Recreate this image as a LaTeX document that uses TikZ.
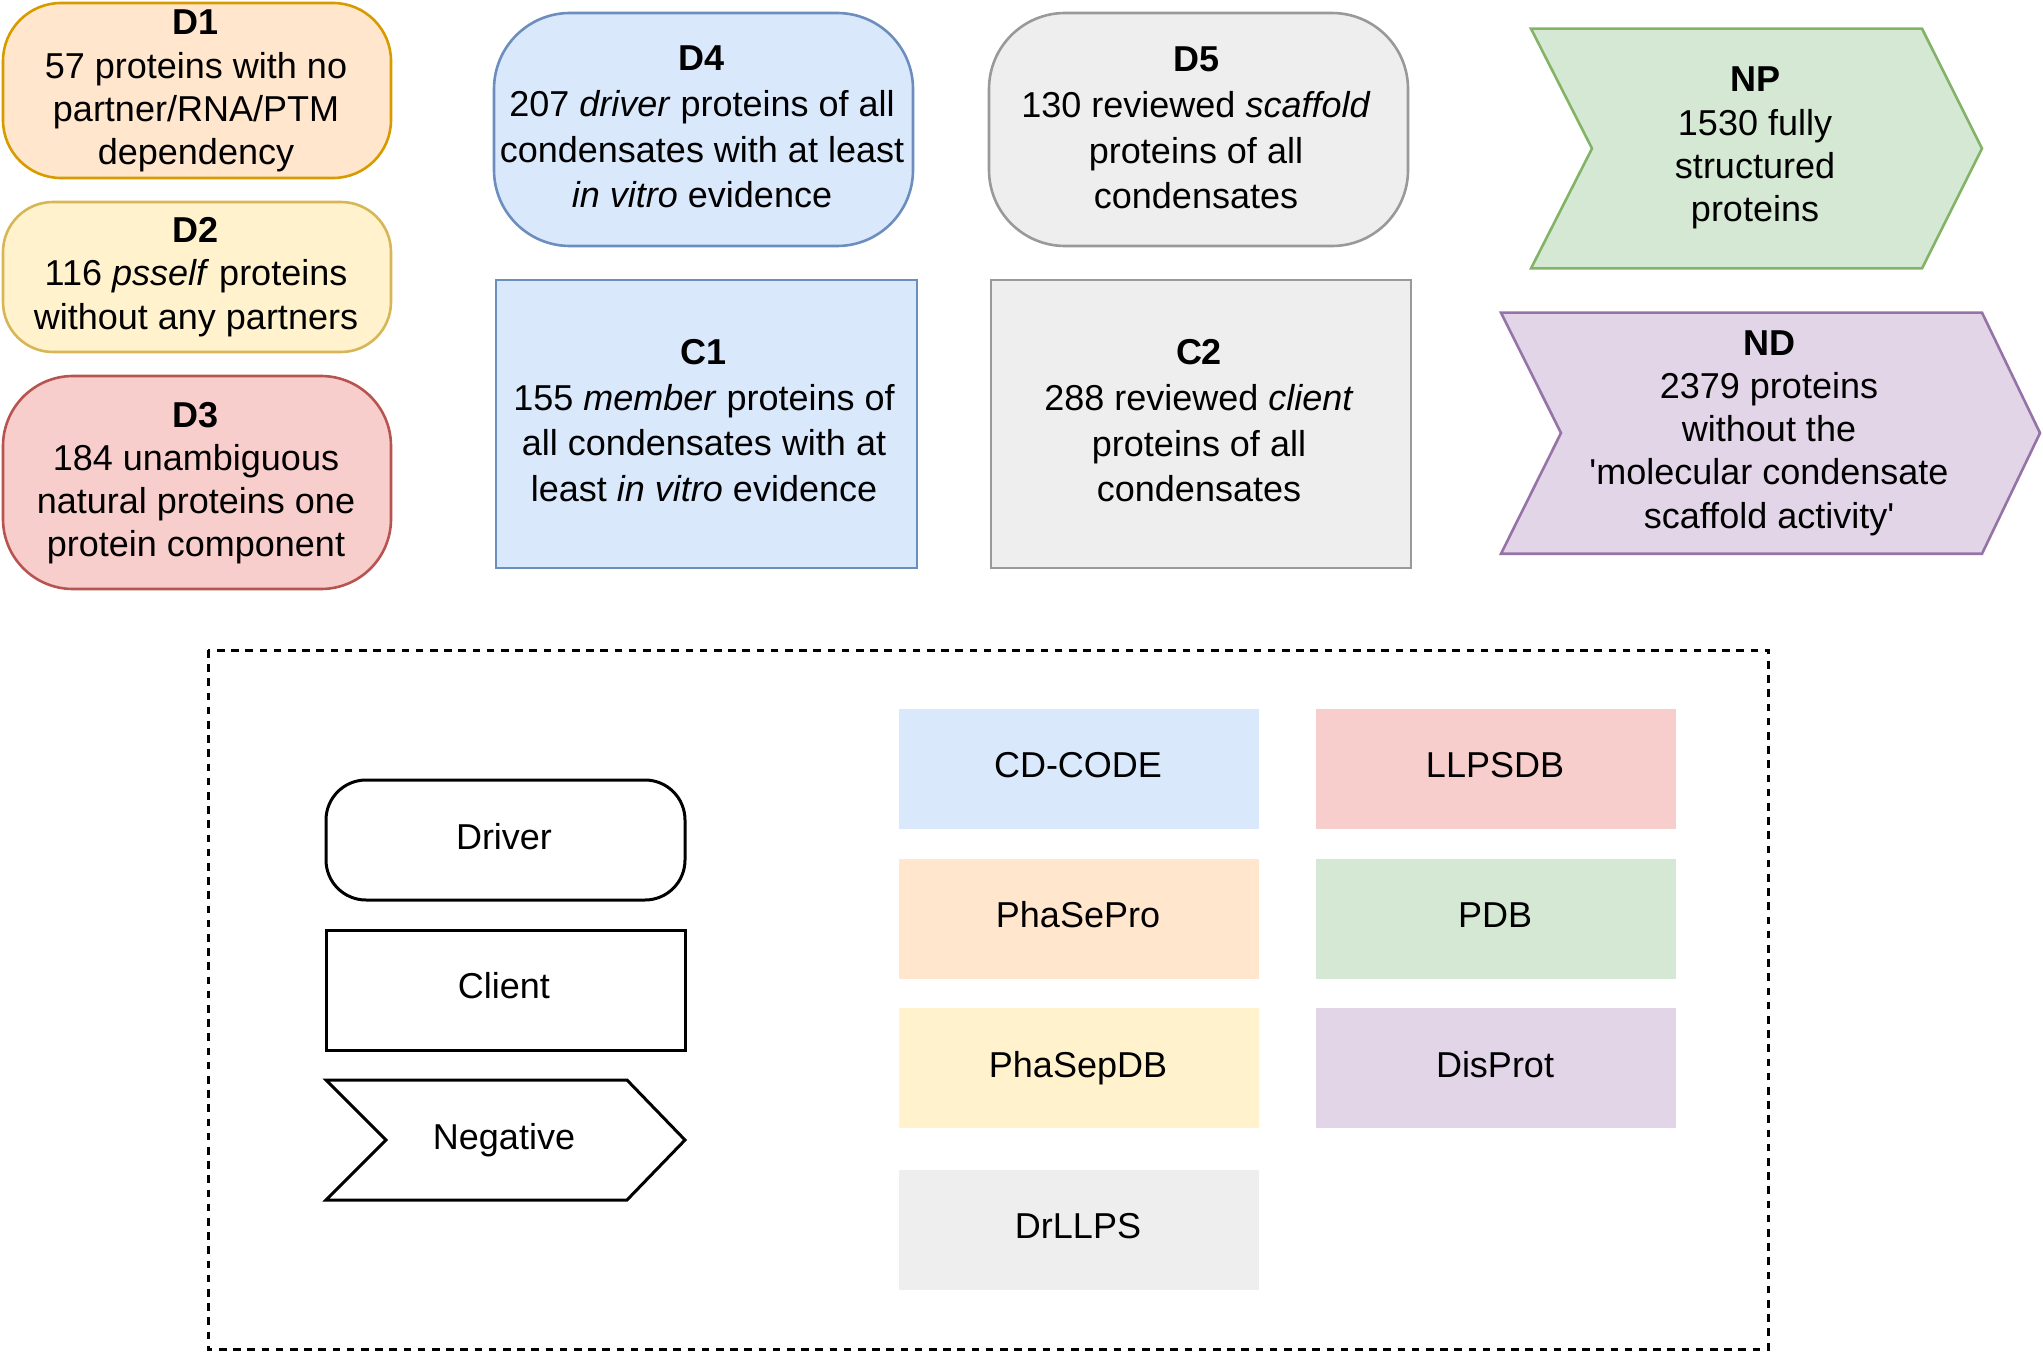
\documentclass[tikz,border=0pt]{standalone}
\usepackage{fontspec}
\setmainfont{Liberation Sans}
\definecolor{orF}{HTML}{FFE6CC}\definecolor{orS}{HTML}{D79B00}
\definecolor{yeF}{HTML}{FFF2CC}\definecolor{yeS}{HTML}{D6B656}
\definecolor{reF}{HTML}{F8CECC}\definecolor{reS}{HTML}{B85450}
\definecolor{blF}{HTML}{DAE8FC}\definecolor{blS}{HTML}{6C8EBF}
\definecolor{grF}{HTML}{EEEEEE}\definecolor{grS}{HTML}{999999}
\definecolor{gnF}{HTML}{D5E8D4}\definecolor{gnS}{HTML}{82B366}
\definecolor{puF}{HTML}{E1D5E7}\definecolor{puS}{HTML}{9673A6}
\tikzset{
  shapebox/.style={draw, line width=1.3pt, inner sep=0pt, minimum width=#1},
  legbox/.style={draw=black, line width=1.5pt, inner sep=0pt, minimum width=179.5pt, minimum height=60pt},
  srcbox/.style={draw=none, inner sep=0pt, minimum width=180pt, minimum height=60pt},
  txt/.style={align=center, inner sep=0pt, font=\fontsize{18}{21.6}\selectfont},
  txtm/.style={align=center, inner sep=0pt, font=\fontsize{18}{22.8}\selectfont},
  chev/.style={line width=1.3pt, line join=miter},
}
\begin{document}
\begin{tikzpicture}[x=0.5pt,y=-0.5pt]
\useasboundingbox (0,0) rectangle (2043,1353);
% left column (drivers)
\node[shapebox=194pt, minimum height=87.5pt, rounded corners=29pt, fill=orF, draw=orS] (D1) at (197,90.5) {};
\node[txt] (D1t) at (196,91) {\textbf{D1}\\57 proteins with no\\partner/RNA/PTM\\dependency};
\node[shapebox=194pt, minimum height=75pt, rounded corners=25pt, fill=yeF, draw=yeS] (D2) at (197,277) {};
\node[txt] (D2t) at (196,277) {\textbf{D2}\\116 \textit{psself} proteins\\without any partners};
\node[shapebox=194pt, minimum height=106.5pt, rounded corners=35pt, fill=reF, draw=reS] (D3) at (197,482.5) {};
\node[txt] (D3t) at (196,483) {\textbf{D3}\\184 unambiguous\\natural proteins one\\protein component};
% middle
\node[shapebox=209.5pt, minimum height=116.5pt, rounded corners=38pt, fill=blF, draw=blS] (D4) at (703.5,129.5) {};
\node[txtm] (D4t) at (702,127) {\textbf{D4}\\207 \textit{driver} proteins of all\\condensates with at least\\\textit{in vitro} evidence};
\node[shapebox=210.5pt, minimum height=144pt, fill=blF, draw=blS] (C1) at (706.5,424) {};
\node[txtm] (C1t) at (704,420.5) {\textbf{C1}\\155 \textit{member} proteins of\\all condensates with at\\least \textit{in vitro} evidence};
\node[shapebox=209.5pt, minimum height=116.5pt, rounded corners=38pt, fill=grF, draw=grS] (D5) at (1198.5,129.5) {};
\node[txtm] (D5t) at (1196,128) {\textbf{D5}\\130 reviewed \textit{scaffold}\\proteins of all\\condensates};
\node[shapebox=210pt, minimum height=144pt, fill=grF, draw=grS] (C2) at (1201,424) {};
\node[txtm] (C2t) at (1199,421) {\textbf{C2}\\288 reviewed \textit{client}\\proteins of all\\condensates};
% negatives
\draw[chev, fill=gnF, draw=gnS] (1531,28.7) -- (1922,28.7) -- (1982,148.5) -- (1922,268.4) -- (1531,268.4) -- (1592,148.5) -- cycle;
\node[txt] (NPt) at (1755,148) {\textbf{NP}\\1530 fully\\structured\\proteins};
\draw[chev, fill=puF, draw=puS] (1501,312.7) -- (1982,312.7) -- (2040,433) -- (1982,553.7) -- (1501,553.7) -- (1561,433) -- cycle;
\node[txt] (NDt) at (1769,433) {\textbf{ND}\\2379 proteins\\without the\\\textquotesingle molecular condensate\\scaffold activity\textquotesingle};
% legend frame
\draw[line width=1.5pt, dash pattern=on 3.8pt off 3.3pt] (208,650) rectangle (1768,1349);
\node[legbox, rounded corners=20pt] (Ldrv) at (505.5,840) {};
\node[txt] (Ldrvt) at (504,836.5) {Driver};
\node[legbox] (Lcli) at (505.5,990) {};
\node[txt] (Lclit) at (504,986) {Client};
\draw[line width=1.5pt, line join=miter] (326,1080) -- (627,1080) -- (685,1140) -- (627,1200) -- (326,1200) -- (386,1140) -- cycle;
\node[txt] (Lnegt) at (504,1140) {Negative};
% sources
\node[srcbox, fill=blF] (S1) at (1079,769) {};
\node[txt] (S1t) at (1078,765) {CD-CODE};
\node[srcbox, fill=reF] (S2) at (1496,769) {};
\node[txt] (S2t) at (1495,765) {LLPSDB};
\node[srcbox, fill=orF] (S3) at (1079,918.5) {};
\node[txt] (S3t) at (1078,915) {PhaSePro};
\node[srcbox, fill=gnF] (S4) at (1496,918.5) {};
\node[txt] (S4t) at (1495,915) {PDB};
\node[srcbox, fill=yeF] (S5) at (1079,1068) {};
\node[txt] (S5t) at (1078,1068) {PhaSepDB};
\node[srcbox, fill=puF] (S6) at (1496,1068) {};
\node[txt] (S6t) at (1495,1065) {DisProt};
\node[srcbox, fill=grF] (S7) at (1079,1230) {};
\node[txt] (S7t) at (1078,1226) {DrLLPS};
\end{tikzpicture}
\end{document}
